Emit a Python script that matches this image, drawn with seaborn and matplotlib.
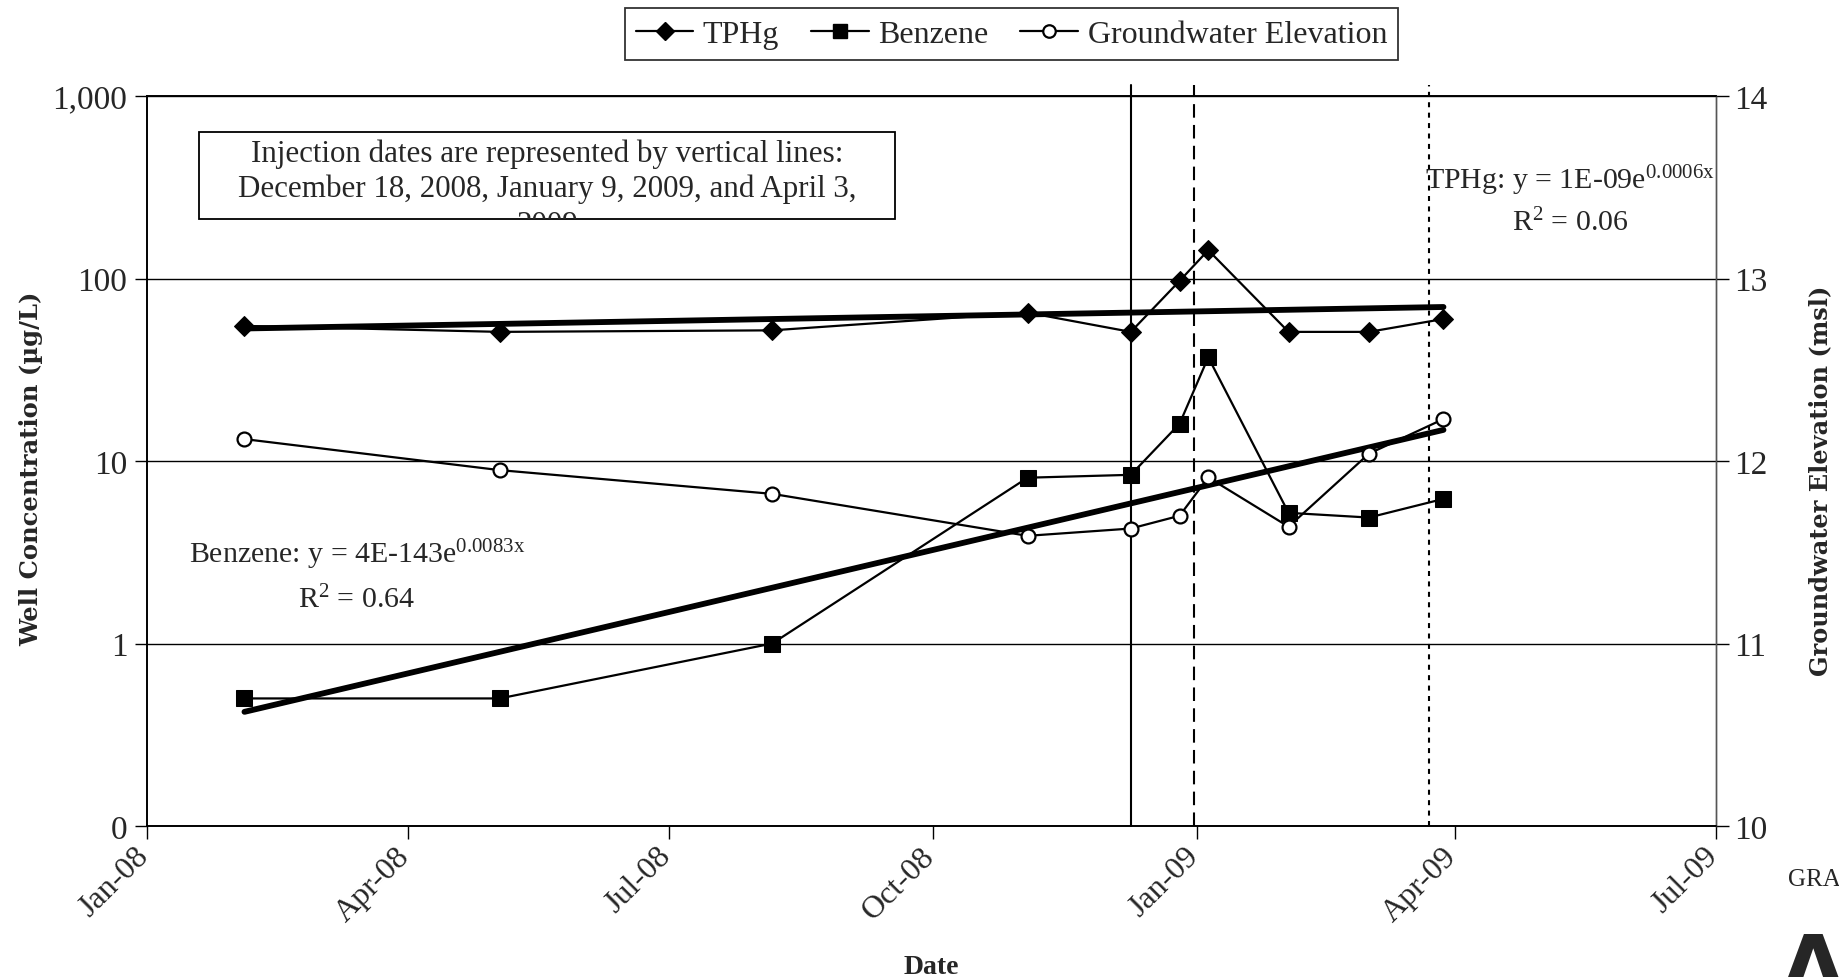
import matplotlib
matplotlib.use("Agg")
import matplotlib.pyplot as plt
import matplotlib.dates as mdates
from matplotlib.ticker import FixedLocator, FixedFormatter, NullLocator
from matplotlib.patches import Rectangle
from matplotlib.lines import Line2D
from matplotlib.transforms import ScaledTranslation
import numpy as np
import pandas as pd
import seaborn as sns

# ---------------- data ----------------
sample_dates = ["2008-02-13", "2008-05-12", "2008-08-15", "2008-11-12", "2008-12-18",
                "2009-01-04", "2009-01-14", "2009-02-11", "2009-03-11", "2009-04-06"]
tphg = [55, 51, 52, 65, 51, 97, 143, 51, 51, 60]
benzene = [0.5, 0.5, 1.0, 8.1, 8.4, 16, 37, 5.2, 4.9, 6.2]
gw_elevation = [12.12, 11.95, 11.82, 11.59, 11.63, 11.70, 11.91, 11.64, 12.04, 12.23]

injection_dates = ["2008-12-18", "2009-01-09", "2009-04-01"]

conc_ticks = [0.1, 1, 10, 100, 1000]
conc_tick_labels = ["0", "1", "10", "100", "1,000"]
elev_ticks = [10, 11, 12, 13, 14]
elev_tick_labels = ["10", "11", "12", "13", "14"]
x_tick_dates = ["2008-01-10", "2008-04-10", "2008-07-10", "2008-10-10",
                "2009-01-10", "2009-04-10", "2009-07-10"]
x_tick_labels = ["Jan-08", "Apr-08", "Jul-08", "Oct-08", "Jan-09", "Apr-09", "Jul-09"]

series_names = ["TPHg", "Benzene", "Groundwater Elevation"]
note_lines = ["Injection dates are represented by vertical lines:",
              "December 18, 2008, January 9, 2009, and April 3,",
              "2009"]
benzene_eq = ["Benzene: y = 4E-143e$^{\\mathrm{0.0083x}}$", "R$^{\\mathrm{2}}$ = 0.64"]
tphg_eq = ["TPHg: y = 1E-09e$^{\\mathrm{0.0006x}}$", "R$^{\\mathrm{2}}$ = 0.06"]

# ---------------- style ----------------
sns.set_style("white")
plt.rcParams["font.family"] = ["Liberation Serif", "DejaVu Serif"]
plt.rcParams["mathtext.fontset"] = "custom"
plt.rcParams["mathtext.rm"] = "Liberation Serif"
plt.rcParams["mathtext.it"] = "Liberation Serif:italic"
plt.rcParams["mathtext.bf"] = "Liberation Serif:bold"

fig = plt.figure(figsize=(18.39, 9.78), dpi=100)
fig.patch.set_facecolor("white")
ax = fig.add_axes([0.0799, 0.1544, 0.8532, 0.7464])
ax2 = ax.twinx()

dates = pd.to_datetime(sample_dates)
df = pd.DataFrame({"date": dates, "TPHg": tphg, "Benzene": benzene, "GW": gw_elevation})

# gridlines (primary axis)
ax.set_yscale("log")
ax.set_ylim(0.1, 1000)
for t in conc_ticks:
    ax.axhline(t, color="black", lw=1.0, zorder=0.5)

# data series
sns.lineplot(data=df, x="date", y="TPHg", ax=ax, color="black", lw=1.6,
             marker="D", markersize=10, markeredgecolor="black", markerfacecolor="black",
             legend=False, zorder=3)
sns.lineplot(data=df, x="date", y="Benzene", ax=ax, color="black", lw=1.6,
             marker="s", markersize=11, markeredgecolor="black", markerfacecolor="black",
             legend=False, zorder=3)

# exponential trend lines (least squares on log values, as Excel does)
xnum = mdates.date2num(dates)
ends = [0, len(xnum) - 1]
for vals in (tphg, benzene):
    b, ln_a = np.polyfit(xnum, np.log(vals), 1)
    tx = dates[ends]
    ty = np.exp(ln_a + b * xnum[ends])
    sns.lineplot(x=tx, y=ty, ax=ax, color="black", lw=4.2, legend=False, zorder=2.5)

# injection lines
inj_styles = ["-", (0, (6.5, 3.5)), (0, (2.4, 2.6))]
for d, ls in zip(injection_dates, inj_styles):
    ax.axvline(pd.Timestamp(d), ymin=0, ymax=1.015, color="black", lw=1.5,
               linestyle=ls, clip_on=False, zorder=2)

# groundwater on secondary axis
sns.lineplot(data=df, x="date", y="GW", ax=ax2, color="black", lw=1.6,
             marker="o", markersize=10, markeredgecolor="black", markerfacecolor="white",
             markeredgewidth=1.6, legend=False, zorder=3)
ax2.set_ylim(10, 14)

# axes formatting
ax.set_xlim(pd.Timestamp("2008-01-10"), pd.Timestamp("2009-07-10"))
ax.xaxis.set_major_locator(FixedLocator(mdates.date2num(pd.to_datetime(x_tick_dates))))
ax.xaxis.set_major_formatter(FixedFormatter(x_tick_labels))
ax.yaxis.set_major_locator(FixedLocator(conc_ticks))
ax.yaxis.set_major_formatter(FixedFormatter(conc_tick_labels))
ax.yaxis.set_minor_locator(NullLocator())
ax2.yaxis.set_major_locator(FixedLocator(elev_ticks))
ax2.yaxis.set_major_formatter(FixedFormatter(elev_tick_labels))
ax2.yaxis.set_minor_locator(NullLocator())

ax.tick_params(axis="y", which="major", direction="out", length=9, width=1.0,
               labelsize=24, pad=5, left=True, color="black")
ax.tick_params(axis="x", which="major", direction="out", length=9, width=1.0,
               labelsize=23, pad=2, bottom=True, color="black")
ax2.tick_params(axis="y", which="major", direction="out", length=9, width=1.0,
                labelsize=24, pad=4, right=True, color="black")
offset = ScaledTranslation(-0.13, 0, fig.dpi_scale_trans)
for lab in ax.get_xticklabels():
    lab.set_rotation(45)
    lab.set_ha("right")
    lab.set_va("top")
    lab.set_rotation_mode("anchor")
    lab.set_transform(lab.get_transform() + offset)

ax.set_xlabel("Date", fontsize=20, fontweight="bold", labelpad=20)
ax.set_ylabel("Well Concentration (µg/L)", fontsize=17.5, fontweight="bold",
              family=["DejaVu Serif"])
ax.yaxis.set_label_coords(-0.066, 0.49)
ax2.set_ylabel("Groundwater Elevation (msl)", fontsize=17.3, fontweight="bold",
               family=["DejaVu Serif"])
ax2.yaxis.set_label_coords(1.059, 0.474)

for a in (ax, ax2):
    for side in ("left", "bottom", "top"):
        a.spines[side].set_color("black")
        a.spines[side].set_linewidth(1.2)
    a.spines["right"].set_color("#555555")
    a.spines["right"].set_linewidth(1.0)
    a.grid(False)
ax.set_facecolor("white")
ax2.patch.set_visible(False)

# note box with clipped text
rect = Rectangle((0.1082, 0.775), 0.3785, 0.089, transform=fig.transFigure,
                 facecolor="white", edgecolor="black", lw=1.3, zorder=5)
fig.add_artist(rect)
for txt, yy in zip(note_lines, [0.8426, 0.8068, 0.7690]):
    t = fig.text(0.2975, yy, txt, ha="center", va="center", fontsize=22.3, zorder=6)
    t.set_clip_path(rect)

# trend equations
fig.text(0.194, 0.433, benzene_eq[0], ha="center", va="center", fontsize=21.5)
fig.text(0.194, 0.386, benzene_eq[1], ha="center", va="center", fontsize=21.5)
fig.text(0.854, 0.815, tphg_eq[0], ha="center", va="center", fontsize=21.5)
fig.text(0.854, 0.772, tphg_eq[1], ha="center", va="center", fontsize=21.5)

# legend
handles = [
    Line2D([], [], color="black", lw=1.6, marker="D", markersize=9, markerfacecolor="black"),
    Line2D([], [], color="black", lw=1.6, marker="s", markersize=10, markerfacecolor="black"),
    Line2D([], [], color="black", lw=1.6, marker="o", markersize=9, markerfacecolor="white",
           markeredgewidth=1.6),
]
leg = fig.legend(handles, series_names, loc="center", bbox_to_anchor=(0.550, 0.964),
                 ncol=3, frameon=True, fancybox=False, edgecolor="black", fontsize=23,
                 handlelength=1.8, handletextpad=0.3, columnspacing=1.0,
                 borderpad=0.35)
leg.get_frame().set_linewidth(1.3)

# cropped page residue at right edge
fig.text(0.972, 0.100, "GRAPH", ha="left", va="center", fontsize=18)
fig.text(0.968, -0.035, "\u0394", ha="left", va="bottom", fontsize=60, fontweight="bold",
         family=["DejaVu Sans"])

fig.savefig("out.png", dpi=100, facecolor="white")
